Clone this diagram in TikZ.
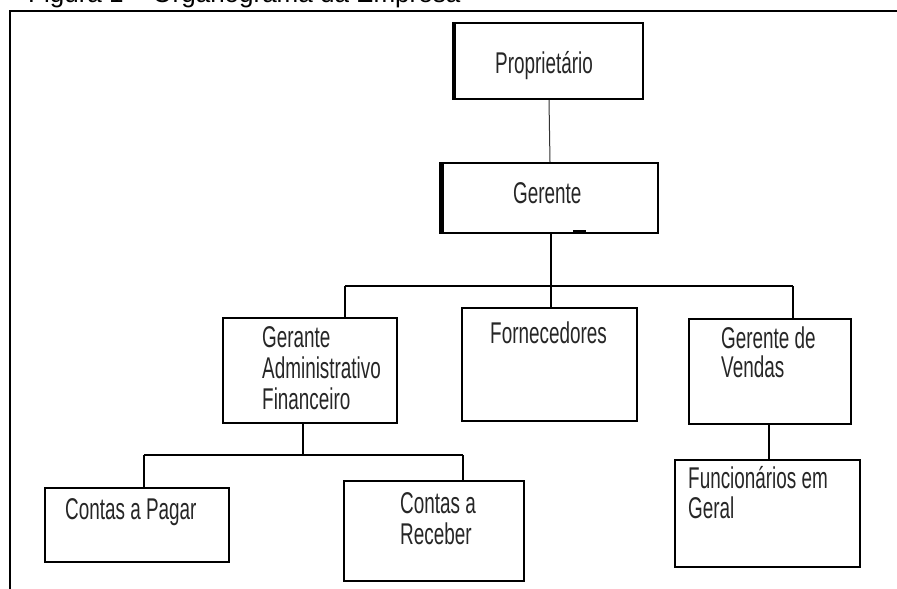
\documentclass[tikz,border=0pt]{standalone}
\usepackage{fontspec}
\setmainfont{Liberation Sans}
\newfontfamily\boxfont[FakeStretch=0.63]{Liberation Sans}
\newfontfamily\titlefont{Liberation Sans}
\begin{document}
\begin{tikzpicture}[x=1pt,y=-1pt,
  box/.style={draw=black,line width=2pt,rectangle,inner sep=0pt},
  lbl/.style={anchor=base west,inner sep=0pt,font=\boxfont\fontsize{30}{31}\selectfont,text=black!85},
  conn/.style={draw=black,line width=2.2pt},
  thinconn/.style={draw=black!80,line width=1pt},
  framel/.style={draw=black,line width=2pt}]
\useasboundingbox (0,0) rectangle (897,589);
% title (cut at top)
\node[anchor=base west,inner sep=0pt,font=\titlefont\fontsize{26}{30}\selectfont] (title) at (28,2) {Figura 1 – Organograma da Empresa};
% frame
\coordinate (fa) at (10,589);
\coordinate (fb) at (10,11);
\coordinate (fc) at (897,11);
\draw[framel] (fa) -- (fb) -- (fc);
% boxes
\node[box,line width=2.2pt,minimum width=188pt,minimum height=76pt] (prop) at (549,61) {};
\draw[line width=2pt] ([xshift=-1pt]prop.north west) -- ([xshift=-1pt]prop.south west);
\draw[line width=1.4pt] ([yshift=-0.5pt]prop.north west) -- ([yshift=-0.5pt]prop.north east);
\node[box,minimum width=215pt,minimum height=70pt] (ger) at (550,198) {};
\draw[line width=2.5pt] ([xshift=-1pt]ger.north west) -- ([xshift=-1pt]ger.south west);
\coordinate (tickA) at (573,231);
\coordinate (tickB) at (586,231);
\draw[line width=2pt] (tickA) -- (tickB);
\node[box,minimum width=174pt,minimum height=105pt] (gaf) at (310,370.5) {};
\node[box,minimum width=175pt,minimum height=113pt] (forn) at (549.5,364.5) {};
\node[box,minimum width=162pt,minimum height=105pt] (gv) at (770,371.5) {};
\node[box,minimum width=185pt,minimum height=107pt] (func) at (767.5,513.5) {};
\node[box,minimum width=184pt,minimum height=74pt] (cp) at (137,525) {};
\node[box,minimum width=180pt,minimum height=100pt] (cr) at (434,531) {};
% labels
\node[lbl] (tprop) at (495,73) {Proprietário};
\node[lbl] (tger) at (513,203) {Gerente};
\node[lbl] (tgafa) at (262,347) {Gerante};
\node[lbl] (tgafb) at (262,378) {Administrativo};
\node[lbl] (tgafc) at (262,409) {Financeiro};
\node[lbl] (tforn) at (490,343) {Fornecedores};
\node[lbl] (tgva) at (721,348) {Gerente de};
\node[lbl] (tgvb) at (721,377) {Vendas};
\node[lbl] (tfunca) at (688,488) {Funcionários em};
\node[lbl] (tfuncb) at (688,518) {Geral};
\node[lbl] (tcp) at (65,519) {Contas a Pagar};
\node[lbl] (tcra) at (400,513) {Contas a};
\node[lbl] (tcrb) at (400,544) {Receber};
% connectors
\coordinate (j1) at (551,286);
\coordinate (j1l) at (345,286);
\coordinate (j1r) at (793,286);
\draw[thinconn] (prop.south) -- (ger.north);
\draw[conn] (ger.south -| j1) -- (j1);
\draw[conn] (j1l) -- (j1r);
\draw[conn] (j1l) -- (j1l |- gaf.north);
\draw[conn] (j1) -- (j1 |- forn.north);
\draw[conn] (j1r) -- (j1r |- gv.north);
\coordinate (j2) at (303,455);
\coordinate (j2l) at (144,455);
\coordinate (j2r) at (463,455);
\draw[conn] (gaf.south -| j2) -- (j2);
\draw[conn] (j2l) -- (j2r);
\draw[conn] (j2l) -- (j2l |- cp.north);
\draw[conn] (j2r) -- (j2r |- cr.north);
\coordinate (j3) at (769,440);
\draw[conn] (gv.south -| j3) -- (j3 |- func.north);
\end{tikzpicture}
\end{document}
